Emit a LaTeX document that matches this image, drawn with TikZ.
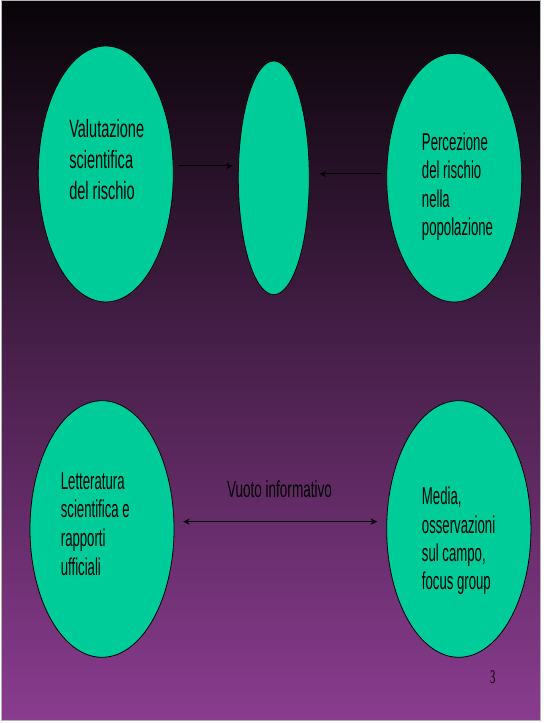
\documentclass[tikz,border=0pt]{standalone}
\usepackage{fontspec}
\setmainfont{Liberation Sans}
\newfontfamily\narrowA[FakeStretch=0.58]{Liberation Sans}
\newfontfamily\narrowB[FakeStretch=0.54]{Liberation Sans}
\newfontfamily\narrowS[FakeStretch=0.55]{Liberation Serif}
\usetikzlibrary{shapes.geometric,arrows.meta}
\definecolor{bgtop}{RGB}{8,4,8}
\definecolor{bgbot}{RGB}{138,60,143}
\definecolor{blobfill}{RGB}{0,204,153}
\tikzset{
  blob/.style={ellipse, draw=black, line width=0.6pt, fill=blobfill, inner sep=0pt},
  lbl/.style={inner sep=0pt, anchor=base west, text=black},
  tip/.style={Stealth[length=5pt,width=4.5pt]},
  arr/.style={line width=0.75pt, -{Stealth[length=5pt,width=4.5pt]}},
  darr/.style={line width=0.75pt, {Stealth[length=5pt,width=4.5pt]}-{Stealth[length=5pt,width=4.5pt]}},
}
\begin{document}
\begin{tikzpicture}[x=0.75pt,y=0.75pt]
\useasboundingbox (0,0) rectangle (543,723);
\fill[white] (0,0) rectangle (543,723);
\shade[top color=bgtop, bottom color=bgbot] (1,2.5) rectangle (540.5,722);
\draw[gray!60, line width=0.75pt] (1,2.5) rectangle (540.5,722);

% ellipses
\node[blob, minimum width=101.25pt, minimum height=192pt] (E1) at (105.8,549) {};
\node[blob, minimum width=53.25pt, minimum height=175.3pt] (C) at (273.8,545.2) {};
\node[blob, minimum width=101.25pt, minimum height=186.5pt] (E3) at (454.2,545.3) {};
\node[blob, minimum width=108pt, minimum height=192.45pt] (E4) at (102,194) {};
\node[blob, minimum width=108.2pt, minimum height=192.45pt] (E5) at (458.8,194) {};

% texts
\node[lbl] (t1) at (69,585.5) {\narrowA\fontsize{18.8pt}{23.25pt}\selectfont\begin{tabular}[t]{@{}l@{}}Valutazione\\scientifica\\del rischio\end{tabular}};
\node[lbl] (t3) at (421.7,572.5) {\narrowB\fontsize{18.3pt}{21.2pt}\selectfont\begin{tabular}[t]{@{}l@{}}Percezione\\del rischio\\nella\\popolazione\end{tabular}};
\node[lbl] (t4) at (60.6,233.7) {\narrowB\fontsize{18.3pt}{21.45pt}\selectfont\begin{tabular}[t]{@{}l@{}}Letteratura\\scientifica e\\rapporti\\ufficiali\end{tabular}};
\node[lbl] (t5) at (421.7,218) {\narrowB\fontsize{18.3pt}{21.1pt}\selectfont\begin{tabular}[t]{@{}l@{}}Media,\\osservazioni\\sul campo,\\focus group\end{tabular}};
\node[lbl] (gap) at (226.8,225.7) {\narrowA\fontsize{17.5pt}{21pt}\selectfont Vuoto informativo};
\node[inner sep=0pt, anchor=base] (num) at (492.7,39.7) {\narrowS\fontsize{14.4pt}{17pt}\selectfont 3};

% connectors
\path ([yshift=6pt]E1.east) coordinate (a1);
\draw[arr, shorten <=3.75pt, shorten >=3.75pt] (a1) -- (a1 -| C.west);
\path ([yshift=2.8pt]E3.west) coordinate (a2);
\draw[arr, shorten <=3.75pt, shorten >=7.3pt] (a2) -- (a2 -| C.east);
\path ([yshift=5.5pt]E4.east) coordinate (a3);
\draw[darr, shorten <=6.5pt, shorten >=6.75pt] (a3) -- (a3 -| E5.west);
\end{tikzpicture}
\end{document}
